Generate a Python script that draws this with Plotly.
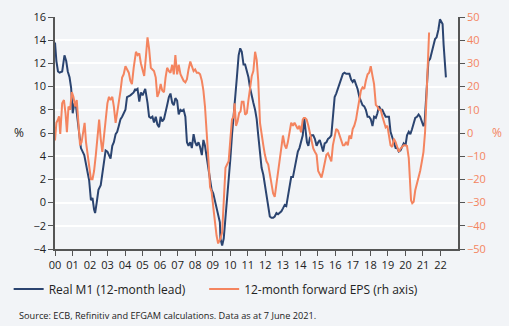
import plotly.graph_objects as go

# Real M1 (12-month lead), % (left axis); x in decimal years
m1_year = [
    2000.0, 2000.08, 2000.17, 2000.26, 2000.41, 2000.54, 2000.64, 2000.73, 2000.83, 2000.92,
    2001.01, 2001.11, 2001.2, 2001.3, 2001.39, 2001.48, 2001.67, 2001.77, 2001.86, 2001.95,
    2002.05, 2002.14, 2002.23, 2002.29, 2002.38, 2002.48, 2002.61, 2002.7, 2002.8, 2002.89,
    2002.99, 2003.08, 2003.17, 2003.27, 2003.36, 2003.46, 2003.55, 2003.64, 2003.74, 2003.83,
    2003.92, 2004.02, 2004.11, 2004.3, 2004.49, 2004.58, 2004.62, 2004.71, 2004.81, 2004.9,
    2005.0, 2005.15, 2005.28, 2005.37, 2005.47, 2005.56, 2005.65, 2005.75, 2005.84, 2005.94,
    2006.03, 2006.12, 2006.22, 2006.31, 2006.4, 2006.5, 2006.59, 2006.69, 2006.78, 2006.87,
    2006.97, 2007.06, 2007.16, 2007.25, 2007.34, 2007.44, 2007.53, 2007.62, 2007.72, 2007.81,
    2007.91, 2008.0, 2008.09, 2008.19, 2008.28, 2008.38, 2008.47, 2008.56, 2008.66, 2008.75,
    2008.85, 2008.94, 2009.03, 2009.13, 2009.22, 2009.31, 2009.41, 2009.44, 2009.54, 2009.63,
    2009.73, 2009.82, 2009.91, 2010.01, 2010.1, 2010.2, 2010.29, 2010.38, 2010.48, 2010.57,
    2010.66, 2010.76, 2010.85, 2010.95, 2011.04, 2011.13, 2011.23, 2011.32, 2011.42, 2011.51,
    2011.6, 2011.7, 2011.79, 2011.89, 2011.98, 2012.07, 2012.17, 2012.26, 2012.35, 2012.45,
    2012.54, 2012.64, 2012.73, 2012.82, 2012.92, 2013.01, 2013.11, 2013.2, 2013.29, 2013.39,
    2013.48, 2013.58, 2013.67, 2013.76, 2013.86, 2013.95, 2014.04, 2014.14, 2014.2, 2014.23,
    2014.31, 2014.38, 2014.46, 2014.55, 2014.64, 2014.74, 2014.83, 2014.93, 2015.02, 2015.11,
    2015.21, 2015.3, 2015.39, 2015.49, 2015.58, 2015.68, 2015.77, 2015.86, 2015.96, 2016.05,
    2016.15, 2016.24, 2016.33, 2016.43, 2016.52, 2016.62, 2016.71, 2016.8, 2016.9, 2016.99,
    2017.08, 2017.18, 2017.27, 2017.37, 2017.46, 2017.55, 2017.65, 2017.74, 2017.84, 2017.93,
    2018.02, 2018.12, 2018.21, 2018.31, 2018.4, 2018.49, 2018.59, 2018.68, 2018.77, 2018.87,
    2018.97, 2019.06, 2019.15, 2019.25, 2019.34, 2019.44, 2019.53, 2019.62, 2019.72, 2019.81,
    2019.9, 2020.0, 2020.09, 2020.19, 2020.28, 2020.37, 2020.47, 2020.56, 2020.66, 2020.75,
    2020.84, 2020.94, 2021.03, 2021.09, 2021.16, 2021.24, 2021.31, 2021.41, 2021.5, 2021.6,
    2021.69, 2021.78, 2021.88, 2021.97, 2022.06, 2022.12, 2022.18, 2022.25, 2022.31,
]
m1_val = [
    13.8, 12.2, 11.3, 11.2, 11.3, 12.7, 12.2, 11.3, 10.8, 9.9,
    7.7, 8.6, 8.3, 6.9, 5.8, 4.7, 4.1, 3.3, 2.7, 1.9,
    0.2, 0.4, -0.6, -0.9, 0.0, 1.1, 1.5, 2.4, 3.6, 4.5,
    4.4, 4.1, 3.8, 4.9, 5.2, 5.9, 6.1, 6.6, 7.2, 7.4,
    7.7, 8.0, 9.1, 9.25, 9.5, 9.8, 9.7, 9.8, 8.7, 9.5,
    9.25, 9.8, 8.6, 7.4, 7.3, 7.4, 6.9, 7.4, 6.75, 6.5,
    7.4, 7.0, 7.2, 7.7, 8.4, 9.1, 9.4, 8.6, 8.4, 9.0,
    8.8, 7.6, 8.0, 7.9, 8.0, 7.4, 5.2, 4.9, 5.2, 4.7,
    5.9, 5.2, 4.9, 5.2, 4.8, 4.1, 5.4, 4.9, 3.8, 3.0,
    1.9, 1.1, 0.8, 0.2, -0.6, -1.0, -1.7, -3.1, -3.7, -3.1,
    -1.4, 0.2, 1.9, 3.8, 5.8, 7.4, 9.1, 10.8, 12.7, 13.3,
    13.0, 11.9, 11.9, 11.3, 10.8, 9.9, 9.1, 8.6, 8.0, 7.2,
    5.8, 4.1, 3.0, 2.4, 1.6, 0.5, -0.05, -1.2, -1.3, -1.3,
    -1.2, -0.9, -1.0, -0.9, -0.75, -0.5, -0.2, -0.3, 0.5, 1.1,
    2.2, 2.2, 3.0, 3.8, 4.4, 4.7, 5.2, 5.8, 6.9, 7.2,
    6.1, 5.2, 4.9, 5.6, 5.8, 5.8, 5.5, 4.9, 5.2, 5.4,
    4.9, 4.4, 5.1, 5.2, 5.5, 5.6, 5.8, 7.2, 9.1, 9.4,
    9.9, 10.2, 10.6, 11.1, 11.2, 11.1, 11.1, 11.1, 10.6, 10.4,
    10.6, 10.2, 9.8, 9.1, 8.7, 8.4, 8.3, 8.0, 7.4, 7.4,
    7.2, 6.6, 7.4, 7.3, 7.7, 8.3, 8.0, 8.0, 7.7, 7.4,
    7.4, 7.4, 6.1, 5.6, 5.2, 4.7, 4.7, 4.4, 4.5, 4.9,
    5.1, 4.9, 5.8, 6.1, 5.9, 6.3, 6.9, 7.3, 7.4, 7.6,
    7.4, 6.9, 6.6, 6.75, 8.8, 10.8, 12.2, 12.4, 13.0, 13.6,
    14.1, 14.25, 14.9, 15.8, 15.5, 15.4, 13.6, 11.9, 10.8,
]

# 12-month forward EPS, % (right axis)
eps_year = [
    2000.0, 2000.08, 2000.17, 2000.23, 2000.3, 2000.41, 2000.51, 2000.6, 2000.68, 2000.77,
    2000.86, 2000.96, 2001.05, 2001.15, 2001.24, 2001.33, 2001.43, 2001.52, 2001.62, 2001.69,
    2001.77, 2001.86, 2001.95, 2002.05, 2002.14, 2002.23, 2002.33, 2002.42, 2002.52, 2002.61,
    2002.7, 2002.8, 2002.89, 2002.99, 2003.08, 2003.17, 2003.27, 2003.36, 2003.46, 2003.55,
    2003.64, 2003.74, 2003.83, 2003.92, 2004.02, 2004.11, 2004.21, 2004.3, 2004.39, 2004.49,
    2004.58, 2004.62, 2004.71, 2004.81, 2004.9, 2005.0, 2005.09, 2005.18, 2005.28, 2005.37,
    2005.47, 2005.56, 2005.65, 2005.75, 2005.84, 2005.94, 2006.03, 2006.12, 2006.22, 2006.31,
    2006.4, 2006.5, 2006.59, 2006.69, 2006.78, 2006.87, 2006.97, 2007.06, 2007.16, 2007.25,
    2007.34, 2007.44, 2007.53, 2007.62, 2007.72, 2007.81, 2007.91, 2008.0, 2008.09, 2008.19,
    2008.28, 2008.38, 2008.47, 2008.56, 2008.66, 2008.75, 2008.85, 2008.94, 2009.03, 2009.13,
    2009.22, 2009.31, 2009.41, 2009.44, 2009.54, 2009.63, 2009.73, 2009.82, 2009.91, 2010.01,
    2010.1, 2010.2, 2010.25, 2010.33, 2010.42, 2010.51, 2010.59, 2010.66, 2010.76, 2010.85,
    2010.95, 2011.04, 2011.13, 2011.23, 2011.32, 2011.42, 2011.51, 2011.6, 2011.7, 2011.79,
    2011.89, 2011.98, 2012.07, 2012.17, 2012.26, 2012.35, 2012.45, 2012.54, 2012.64, 2012.73,
    2012.82, 2012.92, 2013.01, 2013.11, 2013.2, 2013.29, 2013.39, 2013.48, 2013.58, 2013.67,
    2013.76, 2013.86, 2013.95, 2014.04, 2014.14, 2014.2, 2014.27, 2014.36, 2014.46, 2014.55,
    2014.64, 2014.74, 2014.83, 2014.93, 2015.02, 2015.11, 2015.21, 2015.3, 2015.39, 2015.49,
    2015.58, 2015.68, 2015.77, 2015.86, 2015.96, 2016.05, 2016.15, 2016.24, 2016.33, 2016.43,
    2016.52, 2016.62, 2016.71, 2016.8, 2016.9, 2016.99, 2017.08, 2017.18, 2017.27, 2017.37,
    2017.46, 2017.55, 2017.65, 2017.74, 2017.84, 2017.93, 2018.02, 2018.12, 2018.21, 2018.31,
    2018.4, 2018.49, 2018.59, 2018.68, 2018.77, 2018.87, 2018.97, 2019.06, 2019.15, 2019.25,
    2019.34, 2019.44, 2019.53, 2019.62, 2019.72, 2019.81, 2019.9, 2020.0, 2020.09, 2020.19,
    2020.24, 2020.32, 2020.39, 2020.47, 2020.56, 2020.66, 2020.75, 2020.84, 2020.94, 2021.03,
    2021.12, 2021.18, 2021.24, 2021.29, 2021.35,
]
eps_val = [
    -3.2, 4.4, 5.8, 7.2, -0.4, 12.8, 14.2, 8.6, 0.3, 11.4,
    10.0, 17.6, 15.6, 11.4, 14.2, 4.4, -5.3, -3.9, 0.3, 4.4,
    -3.9, -9.4, -16.4, -19.9, -19.9, -16.4, -9.4, -1.1, 5.8, -2.5,
    -8.1, -1.1, 5.8, 12.8, 15.6, 14.2, 15.6, 11.4, 4.4, 8.6,
    12.8, 18.3, 23.9, 25.3, 28.8, 27.4, 26.0, 22.5, 21.1, 28.1,
    33.6, 35.0, 33.6, 34.3, 30.1, 26.7, 24.6, 32.2, 41.25, 36.4,
    28.1, 27.4, 26.7, 23.9, 15.6, 17.6, 21.1, 18.3, 17.6, 23.9,
    28.1, 26.7, 26.0, 29.4, 25.3, 33.6, 25.3, 29.4, 25.3, 23.9,
    22.5, 21.8, 23.2, 27.4, 30.8, 28.8, 26.7, 27.4, 26.0, 26.0,
    25.3, 22.5, 18.3, 11.4, 1.7, -10.8, -23.3, -25.4, -31.7, -40.0,
    -44.2, -47.6, -46.25, -45.6, -42.8, -31.7, -15.0, -13.6, -12.2, -2.5,
    5.8, 7.2, 12.8, 3.1, 5.1, 8.6, 9.3, 13.5, 13.5, 7.9,
    8.6, 14.2, 19.7, 24.6, 26.7, 35.0, 31.5, 22.5, 4.4, -1.1,
    -5.3, -9.4, -12.2, -13.6, -17.8, -21.9, -26.1, -27.5, -21.9, -15.0,
    -12.2, -6.7, -1.1, -5.3, -6.7, -3.9, 0.3, 4.4, 3.1, 4.4,
    3.1, 1.7, 3.1, 0.3, 5.8, 6.5, 6.5, 5.8, 3.1, 0.3,
    -2.5, -6.7, -8.1, -9.4, -16.4, -17.8, -19.2, -16.4, -13.6, -9.4,
    -8.75, -10.8, -12.2, -5.3, -1.1, 1.7, 1.0, -1.1, -3.9, -5.3,
    -5.3, -3.9, -5.3, -1.1, -2.5, 1.7, 3.1, 5.8, 10.0, 14.2,
    18.3, 19.7, 19.0, 22.5, 25.3, 26.0, 28.8, 24.6, 21.1, 12.1,
    11.4, 10.0, 10.0, 7.2, 4.4, 2.4, 3.1, -1.1, -5.3, -6.0,
    -2.5, -3.9, -6.0, -8.1, -6.7, -6.0, -5.3, -5.3, -5.6, -10.8,
    -20.6, -29.0, -30.3, -29.7, -24.7, -21.9, -19.9, -16.4, -12.2, -8.1,
    0.3, 12.8, 28.0, 37.8, 43.3,
]

tick_years = list(range(2000, 2023))
tick_labels = [f"{y % 100:02d}" for y in tick_years]
left_ticks = list(range(-4, 17, 2))
right_ticks = list(range(-50, 51, 10))

NAVY = "#2b4470"
ORANGE = "#f4845f"
BG = "#f2f4f7"
AXIS = "#555555"
FONT = "Open Sans"

fig = go.Figure()
fig.add_trace(go.Scatter(x=m1_year, y=m1_val, mode="lines", name="Real M1 (12-month lead)",
                         line=dict(color=NAVY, width=2), yaxis="y", legend="legend"))
fig.add_trace(go.Scatter(x=eps_year, y=eps_val, mode="lines", name="12-month forward EPS (rh axis)",
                         line=dict(color=ORANGE, width=2), yaxis="y2", legend="legend2"))

legend_common = dict(orientation="h", yanchor="middle", xanchor="left",
                     font=dict(size=12, color="#222222"), bgcolor="rgba(0,0,0,0)", itemwidth=30)

fig.update_layout(
    width=509, height=326,
    margin=dict(l=50, r=51, t=9, b=77),
    paper_bgcolor=BG, plot_bgcolor=BG,
    font=dict(family=FONT, size=11, color="#222222"),
    showlegend=True,
    legend=dict(x=-0.115, y=-0.172, **legend_common),
    legend2=dict(x=(201 - 50) / 408, y=-0.172, **legend_common),
    xaxis=dict(range=[2000, 2023], tickmode="array", tickvals=tick_years, ticktext=tick_labels,
               showgrid=False, zeroline=False, showline=True, linecolor=AXIS, linewidth=1.5,
               ticks="outside", ticklen=5, tickcolor=AXIS, tickwidth=1,
               tickfont=dict(size=11, color="#222222")),
    yaxis=dict(range=[-4, 16], tickmode="array", tickvals=left_ticks,
               showgrid=True, gridcolor="#ffffff", gridwidth=1.5, zeroline=False,
               showline=True, linecolor=AXIS, linewidth=1.5,
               ticks="outside", ticklen=5, tickcolor=AXIS, tickwidth=1,
               tickfont=dict(size=11, color="#222222")),
    yaxis2=dict(range=[-50, 50], tickmode="array", tickvals=right_ticks, overlaying="y", side="right",
                showgrid=False, zeroline=False, showline=True, linecolor=AXIS, linewidth=1.5,
                ticks="outside", ticklen=5, tickcolor=AXIS, tickwidth=1,
                tickfont=dict(size=11, color=ORANGE)),
    annotations=[
        dict(text="%", xref="paper", yref="paper", x=(14 - 50) / 408, y=(249 - 128) / 240,
             showarrow=False, font=dict(size=12, color="#222222"), xanchor="center", yanchor="middle"),
        dict(text="%", xref="paper", yref="paper", x=(497 - 50) / 408, y=(249 - 128) / 240,
             showarrow=False, font=dict(size=12, color=ORANGE), xanchor="center", yanchor="middle"),
        dict(text="Source: ECB, Refinitiv and EFGAM calculations. Data as at 7 June 2021.",
             xref="paper", yref="paper", x=(12 - 50) / 408, y=(249 - 318) / 240,
             showarrow=False, font=dict(size=9.2, color="#222222"), xanchor="left", yanchor="middle"),
    ],
)

fig.write_html("out.html")
